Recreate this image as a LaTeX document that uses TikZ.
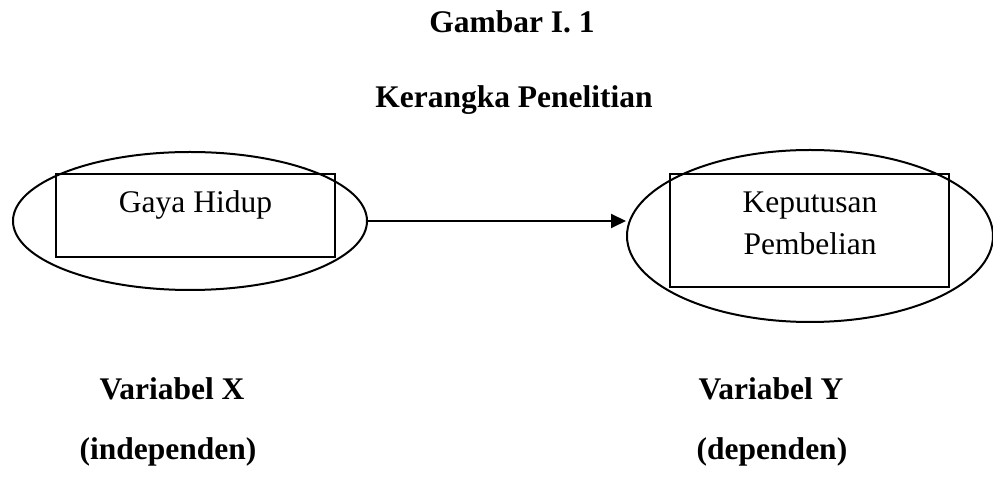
\documentclass[tikz,border=0pt]{standalone}
\usepackage{fontspec}
\setmainfont{Liberation Serif}
\usetikzlibrary{arrows.meta,shapes.geometric}

\begin{document}
\begin{tikzpicture}[x=0.5pt, y=-0.5pt, line width=1pt,
  txt/.style={font=\fontsize{15.75}{21}\selectfont, inner sep=0pt},
  ttl/.style={inner sep=0pt, font=\fontsize{15.75}{21}\selectfont\bfseries},
  oval/.style={draw, ellipse, inner sep=0pt},
  kotak/.style={draw, rectangle, inner sep=0pt, line width=1.2pt}]
  \useasboundingbox (0,0) rectangle (993,480);
  % judul
  \node[ttl, anchor=base] (judul) at (512,33) {Gambar I. 1};
  \node[ttl, anchor=base] (sub) at (514,108) {Kerangka Penelitian};
  % variabel X
  \node[oval, minimum width=177pt, minimum height=69pt] (ovx) at (190,221) {};
  \node[kotak, minimum width=139.5pt, minimum height=41.5pt] (bx) at (195.5,215.5) {};
  \node[txt, anchor=base] (gh) at (195.5,213) {Gaya Hidup};
  % variabel Y
  \node[oval, minimum width=183pt, minimum height=86pt] (ovy) at (810,236) {};
  \node[kotak, minimum width=139.5pt, minimum height=56.5pt] (by) at (809.5,230.5) {};
  \node[txt, anchor=base, align=center] (kp) at (810,255) {Keputusan\\Pembelian};
  % panah X ke Y
  \draw[-{Triangle[length=7.5pt,width=7pt]}] (ovx.east) -- (ovx.east -| ovy.west);
  % keterangan
  \node[ttl, anchor=base] (vx) at (172,400) {Variabel X};
  \node[ttl, anchor=base] (ind) at (168,460) {(independen)};
  \node[ttl, anchor=base] (vy) at (771,400) {Variabel Y};
  \node[ttl, anchor=base] (dep) at (772,460) {(dependen)};
\end{tikzpicture}
\end{document}
